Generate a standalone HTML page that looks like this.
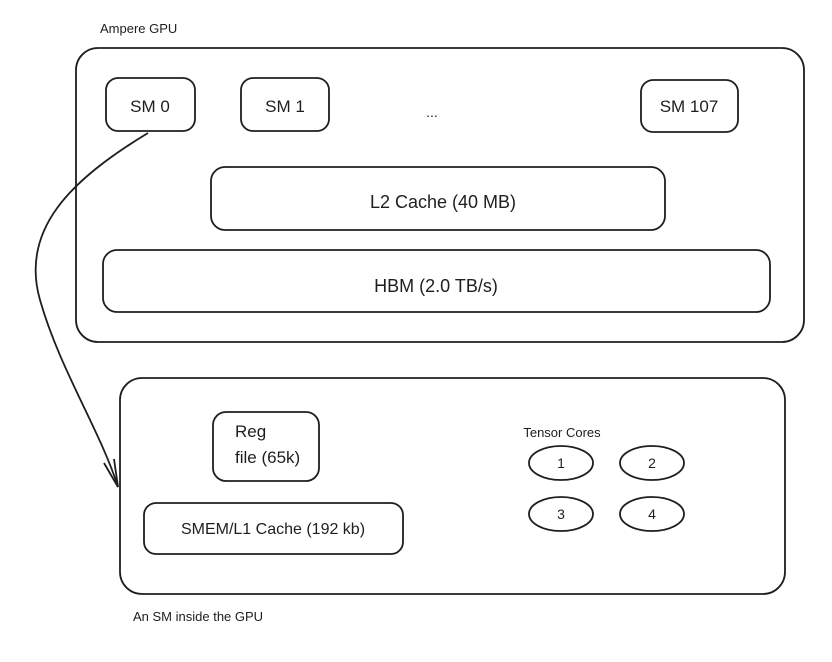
<!DOCTYPE html>
<html><head><meta charset="utf-8"><style>
html,body{margin:0;padding:0;background:#fff;width:832px;height:662px;overflow:hidden}
text{font-family:"Comic Sans MS","Liberation Sans",sans-serif;fill:#1e1e1e}
</style></head><body>
<svg width="832" height="662" xmlns="http://www.w3.org/2000/svg">
<g fill="none" stroke="#1e1e1e" stroke-width="1.8">
<rect x="76" y="48" width="728" height="294" rx="22"/>
<rect x="106" y="78" width="89" height="53" rx="12"/>
<rect x="241" y="78" width="88" height="53" rx="12"/>
<rect x="641" y="80" width="97" height="52" rx="12"/>
<rect x="211" y="167" width="454" height="63" rx="14"/>
<rect x="103" y="250" width="667" height="62" rx="14"/>
<rect x="120" y="378" width="665" height="216" rx="22"/>
<rect x="213" y="412" width="106" height="69" rx="13"/>
<rect x="144" y="503" width="259" height="51" rx="12"/>
<ellipse cx="561" cy="463" rx="32" ry="17"/>
<ellipse cx="652" cy="463" rx="32" ry="17"/>
<ellipse cx="561" cy="514" rx="32" ry="17"/>
<ellipse cx="652" cy="514" rx="32" ry="17"/>
<path d="M148,133 C70,180 20,230 40,300 C60,370 100,430 118,487"/>
<path d="M104,463 L118,487 L114,459"/>
</g>
<text x="100" y="33" font-size="13">Ampere GPU</text>
<text x="150" y="112" font-size="17" text-anchor="middle">SM 0</text>
<text x="285" y="112" font-size="17" text-anchor="middle">SM 1</text>
<text x="689" y="112" font-size="17" text-anchor="middle">SM 107</text>
<text x="432" y="117" font-size="14" text-anchor="middle">...</text>
<text x="443" y="208" font-size="18" text-anchor="middle">L2 Cache  (40 MB)</text>
<text x="436" y="292" font-size="18" text-anchor="middle">HBM (2.0 TB/s)</text>
<text x="235" y="437" font-size="17">Reg</text>
<text x="235" y="463" font-size="17">file (65k)</text>
<text x="273" y="534" font-size="16" text-anchor="middle">SMEM/L1 Cache (192 kb)</text>
<text x="562" y="437" font-size="13" text-anchor="middle">Tensor Cores</text>
<text x="561" y="468" font-size="14" text-anchor="middle">1</text>
<text x="652" y="468" font-size="14" text-anchor="middle">2</text>
<text x="561" y="519" font-size="14" text-anchor="middle">3</text>
<text x="652" y="519" font-size="14" text-anchor="middle">4</text>
<text x="133" y="621" font-size="13">An SM inside the GPU</text>
</svg>
</body></html>
